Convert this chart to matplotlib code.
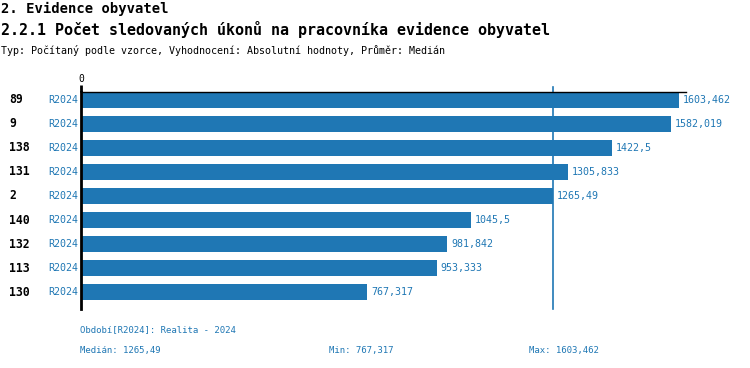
import matplotlib
matplotlib.use("Agg")
import matplotlib.pyplot as plt
from matplotlib.transforms import blended_transform_factory

categories = ["89", "9", "138", "131", "2", "140", "132", "113", "130"]
period = ["R2024"] * 9
values = [1603.462, 1582.019, 1422.5, 1305.833, 1265.49, 1045.5, 981.842, 953.333, 767.317]
value_labels = ["1603,462", "1582,019", "1422,5", "1305,833", "1265,49", "1045,5", "981,842", "953,333", "767,317"]
median = 1265.49
title1 = "2. Evidence obyvatel"
title2 = "2.2.1 Počet sledovaných úkonů na pracovníka evidence obyvatel"
subtitle = "Typ: Počítaný podle vzorce, Vyhodnocení: Absolutní hodnoty, Průměr: Medián"
footer_period = "Období[R2024]: Realita - 2024"
footer_median = "Medián: 1265,49"
footer_min = "Min: 767,317"
footer_max = "Max: 1603,462"

BLUE = "#1f77b4"
W, H = 750, 368
plt.rcParams['font.family'] = ['DejaVu Sans Mono', 'DejaVu Sans']

fig = plt.figure(figsize=(W / 100, H / 100), dpi=100)
ax_l, ax_r, ax_t, ax_b = 81, 686, 92, 309
ax = fig.add_axes([ax_l / W, 1 - ax_b / H, (ax_r - ax_l) / W, (ax_b - ax_t) / H])

ypos = list(range(len(categories)))
ax.barh(ypos, values, height=0.667, color=BLUE, zorder=2)
ax.set_xlim(0, 1622)
ax.set_ylim(8.708, -0.333)

# median line
ax.axvline(median, color=BLUE, lw=1.2, zorder=1, ymin=0, ymax=1.025, clip_on=False)

for s in ["right", "bottom"]:
    ax.spines[s].set_visible(False)
ax.spines["top"].set_linewidth(1)
ax.spines["left"].set_linewidth(2)
ax.spines["left"].set_zorder(3)
ax.xaxis.tick_top()
ax.set_xticks([0])
ax.set_xticklabels(["0"], fontsize=7)
ax.tick_params(axis="x", length=5, width=2, pad=1)
ax.set_yticks([])

for i, (v, lab) in enumerate(zip(values, value_labels)):
    ax.text(v + 10, i, lab, color=BLUE, fontsize=7.2, va="center", ha="left")

tr = blended_transform_factory(fig.transFigure, ax.transData)
for i, (c, p) in enumerate(zip(categories, period)):
    ax.text(9 / W, i, c, transform=tr, fontsize=8.3, fontweight="bold", va="center", ha="left", color="black")
    ax.text(78 / W, i, p, transform=tr, fontsize=7.2, va="center", ha="right", color=BLUE)

fig.text(1 / W, 1 - 9 / H, title1, fontsize=10, fontweight="bold", va="center", ha="left")
fig.text(1 / W, 1 - 30 / H, title2, fontsize=10.8, fontweight="bold", va="center", ha="left")
fig.text(1 / W, 1 - 50 / H, subtitle, fontsize=7.2, va="center", ha="left")

fig.text(80 / W, 1 - 330 / H, footer_period, fontsize=6.5, va="center", ha="left", color=BLUE)
fig.text(80 / W, 1 - 350 / H, footer_median, fontsize=6.5, va="center", ha="left", color=BLUE)
fig.text(329 / W, 1 - 350 / H, footer_min, fontsize=6.5, va="center", ha="left", color=BLUE)
fig.text(529 / W, 1 - 350 / H, footer_max, fontsize=6.5, va="center", ha="left", color=BLUE)

fig.savefig("out.png", dpi=100)
